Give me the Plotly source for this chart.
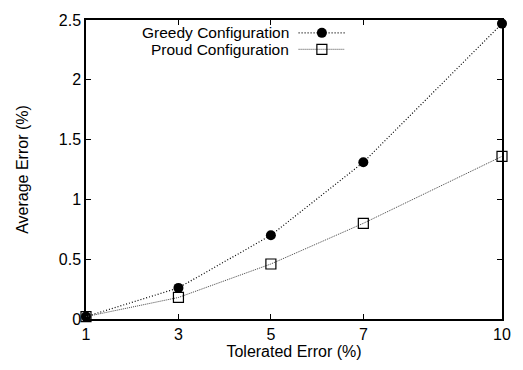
import plotly.graph_objects as go

tolerated = [1, 3, 5, 7, 10]
greedy = [0.02, 0.26, 0.70, 1.31, 2.47]
proud = [0.02, 0.18, 0.46, 0.80, 1.36]
x_ticks = [1, 3, 5, 7, 10]
y_ticks = [0, 0.5, 1, 1.5, 2, 2.5]
y_tick_labels = ["0", "0.5", "1", "1.5", "2", "2.5"]
series_names = ["Greedy Configuration", "Proud Configuration"]

FONT = "Liberation Sans, Arial, Helvetica, sans-serif"
FS = 16

fig = go.Figure()
fig.add_trace(go.Scatter(
    x=tolerated, y=greedy, mode="lines+markers", name=series_names[0],
    line=dict(color="black", width=1.2, dash="1px,2px"),
    marker=dict(symbol="circle", size=10, color="black"),
    cliponaxis=False, showlegend=False))
fig.add_trace(go.Scatter(
    x=tolerated, y=proud, mode="lines+markers", name=series_names[1],
    line=dict(color="#444444", width=1, dash="1px,1px"),
    marker=dict(symbol="square-open", size=10, color="black", line=dict(width=1.2)),
    cliponaxis=False, showlegend=False))

# custom gnuplot-style legend (text, then sample) on an overlay axis in [0,1]
leg_x = [0.511, 0.567, 0.622]
leg_y = [0.957, 0.902]
fig.add_trace(go.Scatter(
    x=leg_x, y=[leg_y[0]] * 3, mode="lines", xaxis="x2", yaxis="y2",
    line=dict(color="black", width=1.2, dash="1px,2px"), showlegend=False, hoverinfo="skip"))
fig.add_trace(go.Scatter(
    x=[leg_x[1]], y=[leg_y[0]], mode="markers", xaxis="x2", yaxis="y2",
    marker=dict(symbol="circle", size=10, color="black"), showlegend=False, hoverinfo="skip"))
fig.add_trace(go.Scatter(
    x=leg_x, y=[leg_y[1]] * 3, mode="lines", xaxis="x2", yaxis="y2",
    line=dict(color="#444444", width=1, dash="1px,1px"), showlegend=False, hoverinfo="skip"))
fig.add_trace(go.Scatter(
    x=[leg_x[1]], y=[leg_y[1]], mode="markers", xaxis="x2", yaxis="y2",
    marker=dict(symbol="square-open", size=10, color="black", line=dict(width=1.2)),
    showlegend=False, hoverinfo="skip"))

for name, yy in zip(series_names, leg_y):
    fig.add_annotation(x=0.49, y=yy, xref="paper", yref="paper", text=name,
                       showarrow=False, xanchor="right", yanchor="middle", borderpad=0,
                       font=dict(family=FONT, size=15.5, color="black"))

axis_common = dict(showgrid=False, zeroline=False, showline=True, linecolor="black",
                   linewidth=1.5, mirror="ticks", ticks="inside", ticklen=5,
                   tickcolor="black", tickwidth=1,
                   tickfont=dict(family=FONT, size=FS, color="black"))

fig.update_layout(
    width=523, height=370,
    margin=dict(l=86, r=14, t=14, b=51),
    paper_bgcolor="white", plot_bgcolor="white",
    font=dict(family=FONT, size=FS, color="black"),
    xaxis=dict(range=[1, 10], tickvals=x_ticks, ticktext=[str(v) for v in x_ticks],
               title=dict(text="Tolerated Error (%)", standoff=4,
                          font=dict(family=FONT, size=FS)), **axis_common),
    yaxis=dict(range=[0, 2.5], tickvals=y_ticks, ticktext=y_tick_labels,
               title=dict(text="Average Error (%)", standoff=26,
                          font=dict(family=FONT, size=FS)), **axis_common),
    xaxis2=dict(range=[0, 1], overlaying="x", visible=False, fixedrange=True),
    yaxis2=dict(range=[0, 1], overlaying="y", visible=False, fixedrange=True),
)

fig.write_html("out.html")
